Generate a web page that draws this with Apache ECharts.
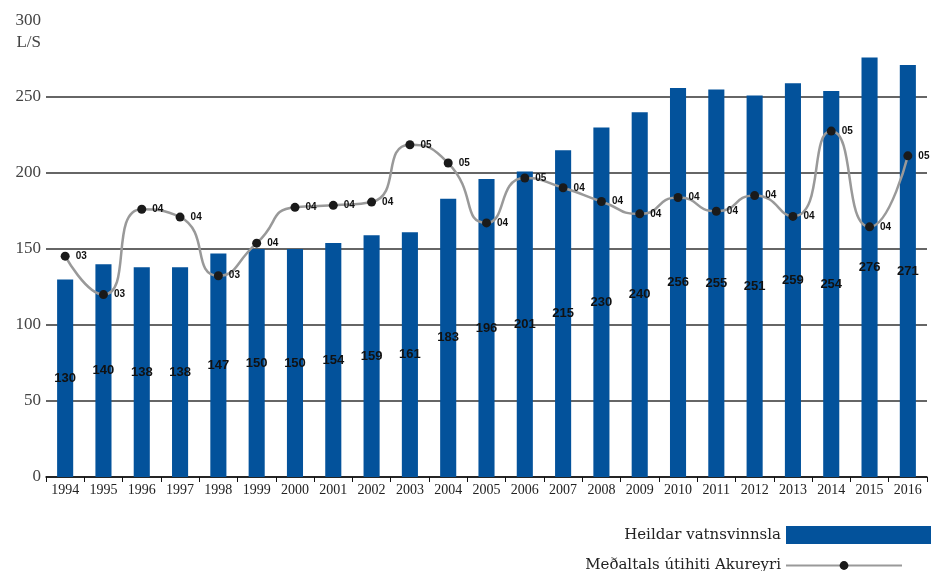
<!DOCTYPE html>
<html>
<head>
<meta charset="utf-8">
<script src="https://cdn.jsdelivr.net/npm/echarts@6/dist/echarts.min.js"></script>
<style>
  html, body { margin: 0; padding: 0; background: #fff; }
  #chart { width: 931px; height: 571px; }
</style>
</head>
<body>
<div id="chart"></div>
<script>
// years on the x axis
const years = ['1994', '1995', '1996', '1997', '1998', '1999', '2000', '2001', '2002', '2003', '2004', '2005',
  '2006', '2007', '2008', '2009', '2010', '2011', '2012', '2013', '2014', '2015', '2016']

// Heildar vatnsvinnsla, L/S
const waterUse = [130, 140, 138, 138, 147, 150, 150, 154, 159, 161, 183, 196,
  201, 215, 230, 240, 256, 255, 251, 259, 254, 276, 271]

const temperature = [3.39, 2.80, 4.11, 3.99, 3.09, 3.59, 4.14, 4.17, 4.22, 5.10, 4.82, 3.90,
  4.59, 4.44, 4.23, 4.04, 4.29, 4.08, 4.32, 4.00, 5.31, 3.84, 4.93]

const yTicks = [0, 50, 100, 150, 200, 250, 300]

const barName = 'Heildar vatnsvinnsla'
const lineName = 'Meðaltals útihiti Akureyri'

const serif = '"Liberation Serif", serif'
const sans = '"Liberation Sans", Arial, sans-serif'

const chart = echarts.init(document.getElementById('chart'))

const option = {
  animation: false,
  grid: { left: 46, right: 4, top: 21, bottom: 94 },
  legend: [
    {
      data: [barName],
      right: 0,
      top: 526,
      padding: 0,
      align: 'right',
      itemWidth: 145,
      itemHeight: 18,
      itemGap: 0,
      itemStyle: { borderWidth: 0 },
      textStyle: { fontFamily: '"DejaVu Serif", serif', fontSize: 15, color: '#222' },
      icon: 'rect',
      selectedMode: false
    },
    {
      data: [lineName],
      right: 28,
      top: 558,
      padding: 0,
      align: 'right',
      itemWidth: 116,
      itemHeight: 11,
      textStyle: { fontFamily: '"DejaVu Serif", serif', fontSize: 15, color: '#222' },
      selectedMode: false
    }
  ],
  xAxis: {
    type: 'category',
    data: years,
    axisLine: { lineStyle: { color: '#111', width: 1.5 } },
    axisTick: { show: true, alignWithLabel: false, length: 5, lineStyle: { color: '#111' } },
    axisLabel: { fontFamily: serif, fontSize: 14, color: '#222', margin: 6 }
  },
  yAxis: [
    {
      type: 'value',
      min: yTicks[0],
      max: yTicks[yTicks.length - 1],
      interval: 50,
      name: 'L/S',
      nameLocation: 'end',
      nameGap: -22,
      nameTextStyle: { fontFamily: serif, fontSize: 17, color: '#444', align: 'right', verticalAlign: 'middle', padding: [0, 5, 0, 0] },
      axisLine: { show: false },
      axisTick: { show: false },
      axisLabel: { fontFamily: serif, fontSize: 17, color: '#444', margin: 5 },
      splitLine: {
        lineStyle: { color: ['#333', '#333', '#333', '#333', '#333', '#333', 'rgba(0,0,0,0)'], width: 1.5 }
      }
    },
    {
      type: 'value',
      min: 0,
      max: 7,
      show: false,
      splitLine: { show: false }
    }
  ],
  series: [
    {
      name: barName,
      type: 'bar',
      data: waterUse,
      barWidth: '42%',
      itemStyle: { color: '#03529b' },
      label: {
        show: true,
        position: 'inside',
        fontFamily: sans,
        fontWeight: 'bold',
        fontSize: 13,
        color: '#111'
      }
    },
    {
      name: lineName,
      type: 'line',
      yAxisIndex: 1,
      data: temperature,
      smooth: 0.6,
      symbol: 'circle',
      symbolSize: 9,
      z: 5,
      lineStyle: { color: '#999', width: 2.5 },
      itemStyle: { color: '#1a1a1a' },
      label: {
        show: true,
        position: 'right',
        distance: 6,
        fontFamily: sans,
        fontWeight: 'bold',
        fontSize: 10,
        color: '#111',
        formatter: (p) => '0' + Math.round(p.value)
      }
    }
  ]
}

chart.setOption(option)
</script>
</body>
</html>
